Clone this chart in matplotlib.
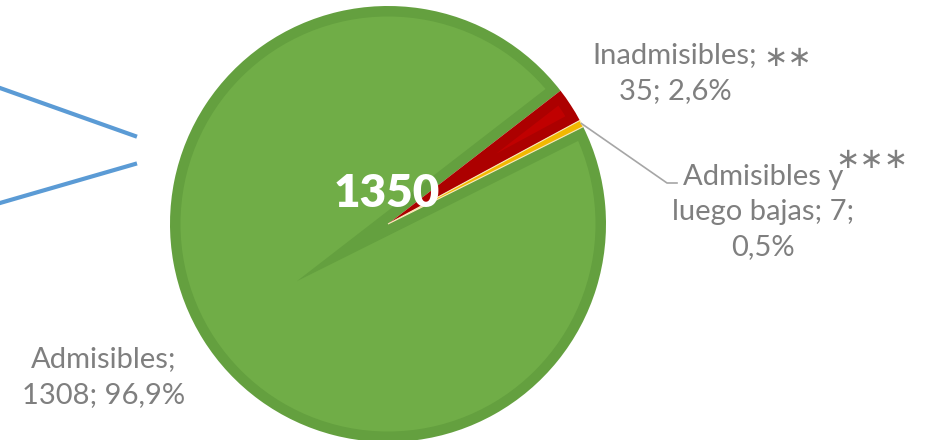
import numpy as np
import matplotlib.pyplot as plt
from matplotlib.patches import Wedge, Circle
from matplotlib.lines import Line2D

# Data
names = ['Admisibles', 'Inadmisibles', 'Admisibles y\nluego bajas']
values = [1308, 35, 7]
pct_labels = ['96,9%', '2,6%', '0,5%']
total_label = '1350'

# Colors: border (darker) and fill (lighter) per slice
edge_colors = ['#64A03F', '#AC0000', '#EDB000']
fill_colors = ['#70AD47', '#C00000', '#F2B800']
text_gray = '#7F7F7F'

W, H = 932, 440
R_PX = 218.0
CX, CY = 388.0, 224.0


def px(x, y):
    """pixel position in the picture -> data coordinates"""
    return (x - CX) / R_PX, (CY - y) / R_PX


fig = plt.figure(figsize=(W / 100, H / 100), dpi=100)
ax = fig.add_axes([0, 0, 1, 1])

wedges, _ = ax.pie(values, colors=edge_colors, startangle=26.5, counterclock=False,
                   radius=1.0, center=(0, 0), frame=True,
                   wedgeprops=dict(linewidth=0))
ax.set_xlim(-CX / R_PX, (W - CX) / R_PX)
ax.set_ylim(-(H - CY) / R_PX, CY / R_PX)
ax.set_aspect('equal')
ax.axis('off')

# inner lighter fill (gives the thick darker border look)
inset = 10.5 / R_PX
for w, fc in zip(wedges[:2], fill_colors[:2]):
    t1, t2 = w.theta1, w.theta2
    half = np.deg2rad((t2 - t1) / 2)
    mid = np.deg2rad((t1 + t2) / 2)
    shift = inset / abs(np.sin(half))
    c = (shift * np.cos(mid), shift * np.sin(mid))
    inner = Wedge(c, 4, t1, t2, facecolor=fc, linewidth=0)
    ax.add_patch(inner)
    clip = Circle((0, 0), 1 - inset, transform=ax.transData)
    inner.set_clip_path(clip)

wedges[2].set_facecolor(fill_colors[2])
wedges[2].set_edgecolor('#F6E7B8')
wedges[2].set_linewidth(0.8)
wedges[2].set_zorder(3)

family = ['Lato', 'DejaVu Sans']

# center total
ax.text(*px(387, 193), total_label, color='white', fontsize=33, fontweight='heavy',
        ha='center', va='center', family=family, zorder=5)

# data labels
label_texts = [f'{names[0]};\n{values[0]}; {pct_labels[0]}',
               f'{names[1]};\n{values[1]}; {pct_labels[1]}',
               f'{names[2]}; {values[2]};\n{pct_labels[2]}']
lbl_pos = [px(104, 377), px(675, 73), px(763, 212)]
for txt, pos in zip(label_texts, lbl_pos):
    ax.text(*pos, txt, color=text_gray, fontsize=21, ha='center', va='center',
            linespacing=1.45, family=family)

ax.text(*px(788, 58), '∗∗', color=text_gray, fontsize=21, ha='center', va='center',
        family=['DejaVu Sans'])
ax.text(*px(872, 160), '∗∗∗', color=text_gray, fontsize=21, ha='center', va='center',
        family=['DejaVu Sans'])

# leader line for the small orange slice
w = wedges[2]
a = np.deg2rad((w.theta1 + w.theta2) / 2)
x0, y0 = np.cos(a), np.sin(a)
xk, yk = px(667, 183)
xe, ye = px(677, 183)
ax.plot([x0, xk, xe], [y0, yk, ye], color='#A6A6A6', lw=1.2, zorder=4)

# connector lines coming from the left chart
for (xa, ya), (xb, yb) in [((0, 88), (135, 136)), ((0, 203), (135, 164))]:
    fig.add_artist(Line2D([xa / W, xb / W], [1 - ya / H, 1 - yb / H],
                          color='#5B9BD5', lw=3))

fig.savefig('out.png', dpi=100)
